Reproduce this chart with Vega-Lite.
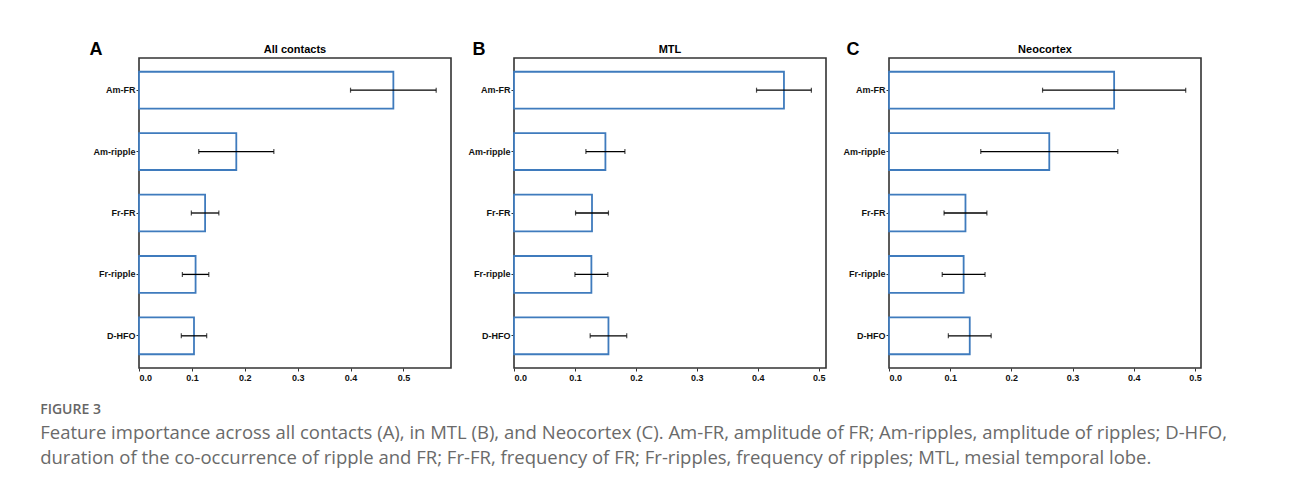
{
  "$schema": "https://vega.github.io/schema/vega-lite/v6.json",
  "background": "white",
  "padding": {"left": 40, "top": 39, "right": 5, "bottom": 5},
  "data": {"values": [
    {"panel": "A", "feature": "Am-FR", "importance": 0.481, "err": 0.081},
    {"panel": "A", "feature": "Am-ripple", "importance": 0.184, "err": 0.071},
    {"panel": "A", "feature": "Fr-FR", "importance": 0.125, "err": 0.026},
    {"panel": "A", "feature": "Fr-ripple", "importance": 0.107, "err": 0.025},
    {"panel": "A", "feature": "D-HFO", "importance": 0.104, "err": 0.024},
    {"panel": "B", "feature": "Am-FR", "importance": 0.443, "err": 0.045},
    {"panel": "B", "feature": "Am-ripple", "importance": 0.150, "err": 0.032},
    {"panel": "B", "feature": "Fr-FR", "importance": 0.128, "err": 0.027},
    {"panel": "B", "feature": "Fr-ripple", "importance": 0.127, "err": 0.027},
    {"panel": "B", "feature": "D-HFO", "importance": 0.155, "err": 0.030},
    {"panel": "C", "feature": "Am-FR", "importance": 0.368, "err": 0.117},
    {"panel": "C", "feature": "Am-ripple", "importance": 0.262, "err": 0.112},
    {"panel": "C", "feature": "Fr-FR", "importance": 0.125, "err": 0.035},
    {"panel": "C", "feature": "Fr-ripple", "importance": 0.122, "err": 0.035},
    {"panel": "C", "feature": "D-HFO", "importance": 0.132, "err": 0.035}
  ]},
  "title": {
    "text": "FIGURE 3",
    "subtitle": [
      "Feature importance across all contacts (A), in MTL (B), and Neocortex (C). Am-FR, amplitude of FR; Am-ripples, amplitude of ripples; D-HFO,",
      "duration of the co-occurrence of ripple and FR; Fr-FR, frequency of FR; Fr-ripples, frequency of ripples; MTL, mesial temporal lobe."
    ],
    "orient": "bottom",
    "anchor": "start",
    "frame": "bounds",
    "offset": 20,
    "dx": -48,
    "font": "Open Sans",
    "fontSize": 14,
    "fontWeight": 600,
    "color": "#666666",
    "subtitleFont": "Open Sans",
    "subtitleFontSize": 18.5,
    "subtitleColor": "#6a6a6a",
    "subtitleLineHeight": 25,
    "subtitlePadding": 7
  },
  "hconcat": [
    {
      "width": 312, "height": 310,
      "transform": [{"filter": "datum.panel === 'A'"}],
      "title": {"text": "All contacts"},
      "encoding": {
        "y": {"field": "feature", "type": "nominal", "sort": ["Am-FR", "Am-ripple", "Fr-FR", "Fr-ripple", "D-HFO"],
              "scale": {"paddingInner": 0.4, "paddingOuter": 0.224},
              "axis": {"title": "A", "titleX": -50, "titleY": 0}},
        "x": {"field": "importance", "type": "quantitative", "scale": {"domain": [0, 0.59], "nice": false}, "axis": {"title": null, "values": [0, 0.1, 0.2, 0.3, 0.4, 0.5], "format": ".1f"}}
      },
      "layer": [
        {"mark": {"type": "bar", "fill": "white", "stroke": "#3f7bbd", "strokeWidth": 1.8}},
        {"mark": {"type": "errorbar", "color": "black", "ticks": {"size": 5, "thickness": 1.2}, "rule": {"strokeWidth": 1.3}},
         "encoding": {"xError": {"field": "err"}}}
      ]
    },
    {
      "width": 312, "height": 310,
      "transform": [{"filter": "datum.panel === 'B'"}],
      "title": {"text": "MTL"},
      "encoding": {
        "y": {"field": "feature", "type": "nominal", "sort": ["Am-FR", "Am-ripple", "Fr-FR", "Fr-ripple", "D-HFO"],
              "scale": {"paddingInner": 0.4, "paddingOuter": 0.224},
              "axis": {"title": "B", "titleX": -42, "titleY": 0}},
        "x": {"field": "importance", "type": "quantitative", "scale": {"domain": [0, 0.512], "nice": false}, "axis": {"title": null, "values": [0, 0.1, 0.2, 0.3, 0.4, 0.5], "format": ".1f"}}
      },
      "layer": [
        {"mark": {"type": "bar", "fill": "white", "stroke": "#3f7bbd", "strokeWidth": 1.8}},
        {"mark": {"type": "errorbar", "color": "black", "ticks": {"size": 5, "thickness": 1.2}, "rule": {"strokeWidth": 1.3}},
         "encoding": {"xError": {"field": "err"}}}
      ]
    },
    {
      "width": 312, "height": 310,
      "transform": [{"filter": "datum.panel === 'C'"}],
      "title": {"text": "Neocortex"},
      "encoding": {
        "y": {"field": "feature", "type": "nominal", "sort": ["Am-FR", "Am-ripple", "Fr-FR", "Fr-ripple", "D-HFO"],
              "scale": {"paddingInner": 0.4, "paddingOuter": 0.224},
              "axis": {"title": "C", "titleX": -43, "titleY": 0}},
        "x": {"field": "importance", "type": "quantitative", "scale": {"domain": [0, 0.51], "nice": false}, "axis": {"title": null, "values": [0, 0.1, 0.2, 0.3, 0.4, 0.5], "format": ".1f"}}
      },
      "layer": [
        {"mark": {"type": "bar", "fill": "white", "stroke": "#3f7bbd", "strokeWidth": 1.8}},
        {"mark": {"type": "errorbar", "color": "black", "ticks": {"size": 5, "thickness": 1.2}, "rule": {"strokeWidth": 1.3}},
         "encoding": {"xError": {"field": "err"}}}
      ]
    }
  ],
  "spacing": 15,
  "config": {
    "font": "Liberation Sans",
    "view": {"stroke": "#333333", "strokeWidth": 1.6},
    "title": {"font": "Liberation Sans", "fontSize": 11, "fontWeight": "bold", "color": "black", "offset": -15, "anchor": "middle"},
    "axis": {
      "domain": false, "grid": false,
      "labelFont": "Liberation Sans", "labelFontSize": 9, "labelFontWeight": "bold", "labelColor": "#111111",
      "tickColor": "#333333", "tickSize": 3, "labelPadding": 2,
      "titleFont": "Liberation Sans", "titleFontSize": 18, "titleFontWeight": "bold", "titleColor": "black"
    },
    "axisY": {"titleAngle": 0, "titleAlign": "left", "titleBaseline": "bottom", "labelPadding": 1}
  }
}
